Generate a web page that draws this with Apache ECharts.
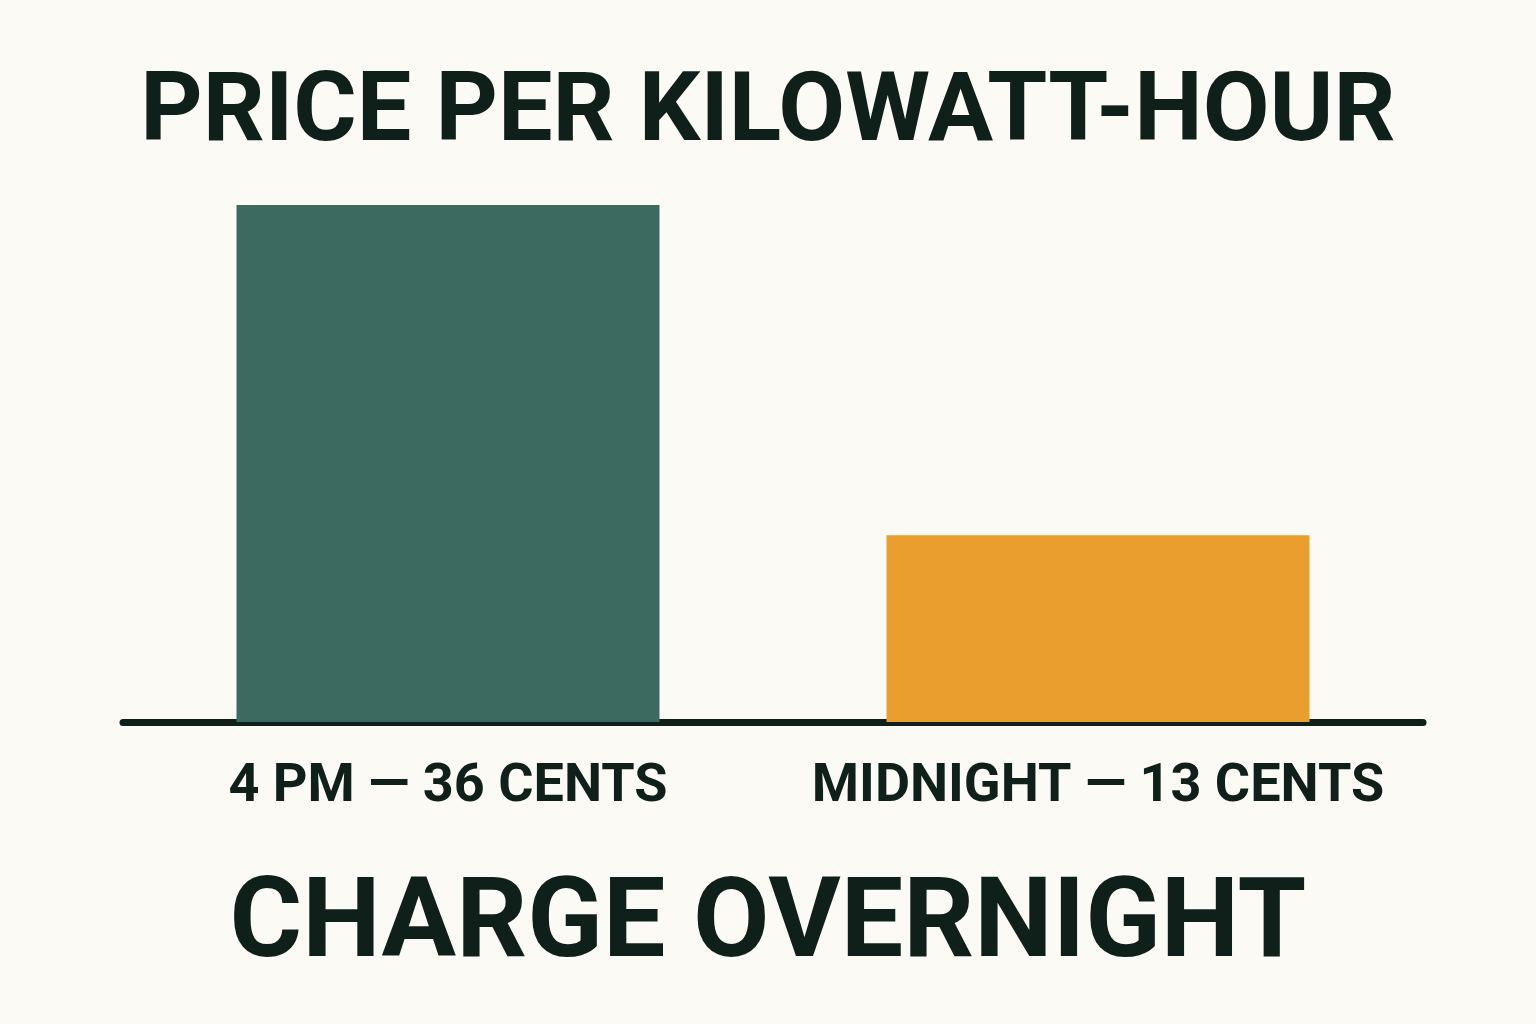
<!DOCTYPE html><html><head><meta charset="utf-8">
<script src="https://cdn.jsdelivr.net/npm/echarts@6/dist/echarts.min.js"></script>
<style>html,body{margin:0;background:#fbfaf5}#c{width:1536px;height:1024px}</style></head><body><div id="c"></div>
<script>
const categories = ['4 PM — 36 CENTS', 'MIDNIGHT — 13 CENTS'];
const values = [36, 13];
const colors = ['#3d6a60', '#e99e2e'];
const chart = echarts.init(document.getElementById('c'));
const ink = '#0f1f1a';
chart.setOption({
  backgroundColor: '#fbfaf5',
  title: [
    {text: 'PRICE PER KILOWATT-HOUR', left: 'center', top: 62, textStyle: {fontFamily: 'Roboto', fontWeight: 'bold', fontSize: 97, color: ink}},
    {text: 'CHARGE OVERNIGHT', left: 'center', top: 868, textStyle: {fontFamily: 'Roboto', fontWeight: 'bold', fontSize: 111, color: ink}}
  ],
  grid: {left: 123, right: 113, top: 205, bottom: 302},
  xAxis: {type: 'category', data: categories,
    axisLine: {lineStyle: {color: ink, width: 7, cap: 'round'}},
    axisTick: {show: false},
    axisLabel: {interval: 0, margin: 38, fontFamily: 'Roboto', fontWeight: 'bold', fontSize: 54, color: ink}},
  yAxis: {type: 'value', min: 0, max: 36, show: false, splitLine: {show: false}},
  series: [{type: 'bar', barWidth: 423, data: values.map((v, i) => ({value: v, itemStyle: {color: colors[i]}})), silent: true}]
});
</script></body></html>
